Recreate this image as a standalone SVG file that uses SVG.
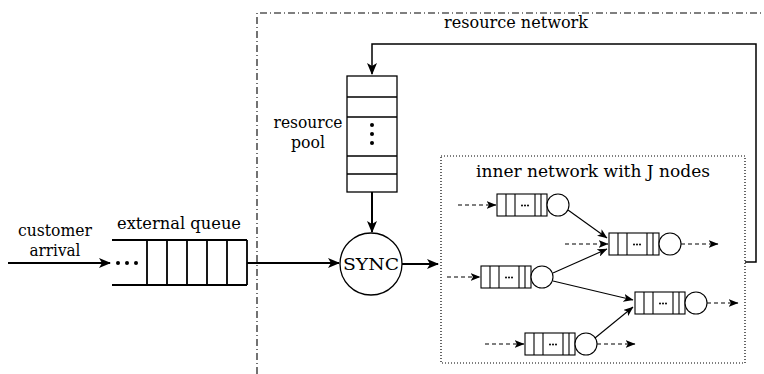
<svg xmlns="http://www.w3.org/2000/svg" width="764" height="374" viewBox="0 0 764 374">
<style>
text{font-family:"DejaVu Serif","Liberation Serif",serif;fill:#000;font-size:17px}
.c{text-anchor:middle}
.thick{stroke:#000;stroke-width:2;fill:none}
.thin{stroke:#000;stroke-width:1.1;fill:none}
.dash{stroke:#000;stroke-width:1.1;fill:none;stroke-dasharray:4 3}
.box{stroke:#000;stroke-width:1.1;fill:#fff}
</style>
<defs>
<marker id="ab" markerUnits="userSpaceOnUse" markerWidth="12" markerHeight="10" viewBox="0 0 12 10" refX="11" refY="5" orient="auto"><path d="M0,0 L12,5 L0,10 L3,5 Z" fill="#000"/></marker>
<marker id="as" markerUnits="userSpaceOnUse" markerWidth="10" markerHeight="8" viewBox="0 0 10 8" refX="9.5" refY="4" orient="auto"><path d="M0,0 L10,4 L0,8 L2.5,4 Z" fill="#000"/></marker>
<g id="qn">
<rect x="0" y="-11" width="50" height="22" class="box"/>
<path d="M9,-11V11M18,-11V11M38,-11V11M44,-11V11" class="thin"/>
<circle cx="25" cy="0.5" r="1" fill="#000"/><circle cx="28" cy="0.5" r="1" fill="#000"/><circle cx="31" cy="0.5" r="1" fill="#000"/>
<circle cx="61" cy="0" r="11" class="box"/>
</g>
</defs>

<g id="resource-network-border">
<path d="M257,374 V13 H764" fill="none" stroke="#000" stroke-width="1.1" stroke-dasharray="7 3 1 3"/>
<text x="516" y="28" class="c" textLength="144" lengthAdjust="spacingAndGlyphs">resource network</text>
</g>

<g id="inner-network-border">
<rect x="441" y="156" width="304" height="207" fill="none" stroke="#000" stroke-width="1.2" stroke-dasharray="1 2"/>
<text x="593" y="177" class="c" textLength="234" lengthAdjust="spacingAndGlyphs">inner network with J nodes</text>
</g>

<g id="customer-arrival">
<text x="55" y="236" class="c" textLength="74" lengthAdjust="spacingAndGlyphs">customer</text>
<text x="55" y="256" class="c" textLength="51" lengthAdjust="spacingAndGlyphs">arrival</text>
</g>

<g id="external-queue">
<text x="179" y="229" class="c" textLength="124" lengthAdjust="spacingAndGlyphs">external queue</text>
<path d="M112,240 H247 M112,285 H247 M147,240 V285 M167,240 V285 M187,240 V285 M207,240 V285 M227,240 V285 M247,240 V285" class="thick" style="stroke-width:1.8"/>
<circle cx="118" cy="263" r="2" fill="#000"/><circle cx="127" cy="263" r="2" fill="#000"/><circle cx="136" cy="263" r="2" fill="#000"/>
</g>

<g id="resource-pool">
<rect x="347" y="76" width="50" height="116" class="box" style="stroke-width:1.3"/>
<path d="M347,97 H397 M347,117 H397 M347,156 H397 M347,174 H397" class="thin" style="stroke-width:1.3"/>
<circle cx="372" cy="125" r="2" fill="#000"/><circle cx="372" cy="134" r="2" fill="#000"/><circle cx="372" cy="143" r="2" fill="#000"/>
<text x="308" y="128" class="c" textLength="69" lengthAdjust="spacingAndGlyphs">resource</text>
<text x="308" y="148" class="c" textLength="34" lengthAdjust="spacingAndGlyphs">pool</text>
</g>

<g id="sync">
<circle cx="371" cy="264" r="31" class="box" style="stroke-width:1.3"/>
<text x="371" y="270" class="c" textLength="56" lengthAdjust="spacingAndGlyphs">SYNC</text>
</g>

<g id="node1"><use href="#qn" x="497" y="205"/></g>
<g id="node2"><use href="#qn" x="609" y="244"/></g>
<g id="node3"><use href="#qn" x="481" y="277"/></g>
<g id="node4"><use href="#qn" x="635" y="303"/></g>
<g id="node5"><use href="#qn" x="525" y="344"/></g>

<g id="connectors">
<line x1="8" y1="263" x2="110" y2="263" class="thick" marker-end="url(#ab)"/>
<line x1="247" y1="263" x2="339" y2="263" class="thick" marker-end="url(#ab)"/>
<line x1="402" y1="264" x2="438" y2="264" class="thick" marker-end="url(#ab)"/>
<line x1="372" y1="192" x2="372" y2="232" class="thick" marker-end="url(#ab)"/>
<path d="M745,262 H756 V44 H372 V74" class="thick" style="stroke-width:1.5" marker-end="url(#ab)"/>
<line x1="458" y1="205" x2="496" y2="205" class="dash" marker-end="url(#as)"/>
<line x1="565" y1="244" x2="608" y2="244" class="dash" marker-end="url(#as)"/>
<line x1="681" y1="244" x2="718" y2="244" class="dash" marker-end="url(#as)"/>
<line x1="447" y1="277" x2="480" y2="277" class="dash" marker-end="url(#as)"/>
<line x1="707" y1="303" x2="738" y2="303" class="dash" marker-end="url(#as)"/>
<line x1="485" y1="344" x2="524" y2="344" class="dash" marker-end="url(#as)"/>
<line x1="597" y1="344" x2="635" y2="344" class="dash" marker-end="url(#as)"/>
<line x1="568" y1="210" x2="607" y2="238" class="thin" marker-end="url(#as)"/>
<line x1="553" y1="273" x2="607" y2="249" class="thin" marker-end="url(#as)"/>
<line x1="553" y1="281" x2="633" y2="300" class="thin" marker-end="url(#as)"/>
<line x1="595" y1="338" x2="633" y2="307" class="thin" marker-end="url(#as)"/>
</g>
</svg>
